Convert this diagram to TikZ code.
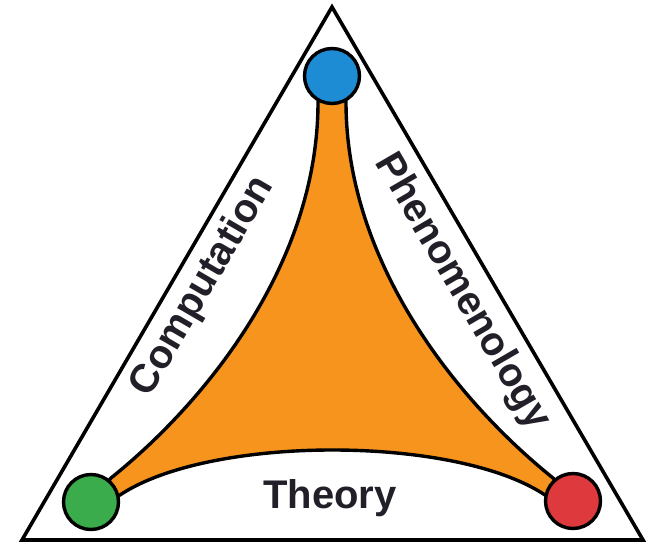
\documentclass[tikz,border=0pt]{standalone}
\usepackage{fontspec}
\setmainfont{Liberation Sans}
\definecolor{orangef}{RGB}{247,148,30}
\definecolor{blueb}{RGB}{30,140,212}
\definecolor{greenb}{RGB}{58,172,76}
\definecolor{redb}{RGB}{222,58,62}
\definecolor{txtc}{RGB}{35,31,40}
\begin{document}
\begin{tikzpicture}[x=1pt,y=-1pt,
  outl/.style={draw=black, line width=3.6pt},
  ball/.style={circle, draw=black, line width=3.4pt, minimum size=55pt, inner sep=0pt},
  lbl/.style={font=\bfseries\fontsize{40}{40}\selectfont, text=txtc, inner sep=0pt}]
\useasboundingbox (0,0) rectangle (656,545);
\coordinate (apex) at (332,7);
\coordinate (bl) at (22,540);
\coordinate (br) at (643,540);
\draw[outl, line join=miter] (apex) -- (br) -- (bl) -- cycle;
\filldraw[fill=orangef, draw=black, line width=3.4pt, line join=round]
  (318,102) .. controls (318,262) and (208,400) .. (111,478) -- (91,502) -- (120,495)
  .. controls (210,435) and (455,435) .. (545,495) -- (573,502) -- (553,478)
  .. controls (456,400) and (346,262) .. (346,102) -- (332,77) -- cycle;
\node[ball, fill=blueb] (blue) at (332,76) {};
\node[ball, fill=greenb] (green) at (91,502) {};
\node[ball, fill=redb] (red) at (573,501) {};
\node[lbl, anchor=base] (theory) at (330,508) {Theory};
\node[lbl, rotate=59.8] (comp) at (203,287) {Computation};
\node[lbl, rotate=-59.8] (phen) at (462,292) {Phenomenology};
\end{tikzpicture}
\end{document}
